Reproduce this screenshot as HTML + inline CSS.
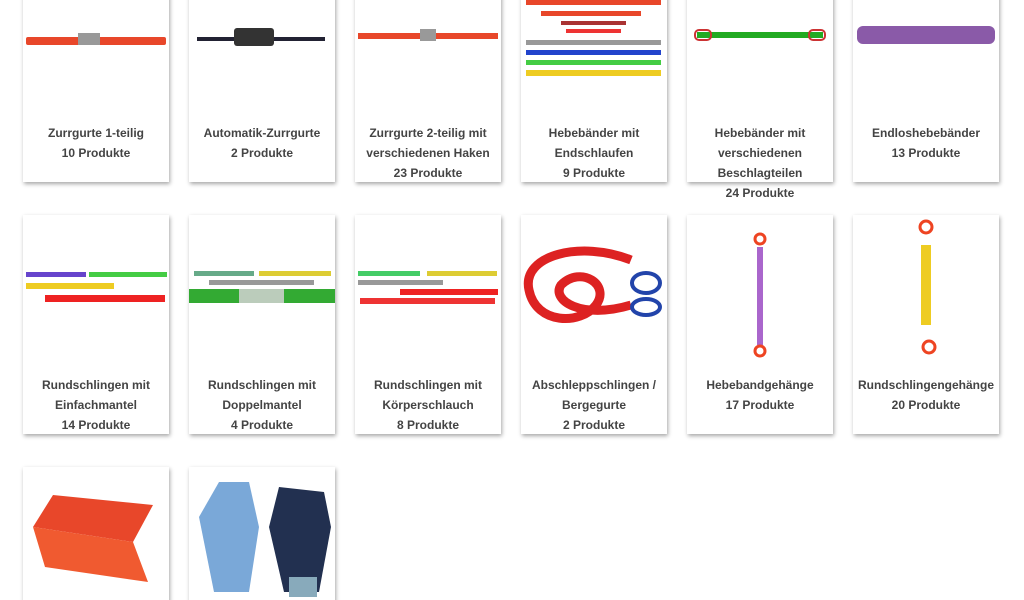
<!DOCTYPE html><html style="height:600px;overflow:hidden"><head><style>
body{margin:0;width:1024px;height:600px;background:#fff;overflow:hidden;position:relative;font-family:"Liberation Sans",Arial,sans-serif}
.c{position:absolute;width:146px;height:219px;background:#fff;box-shadow:1px 2px 4px rgba(0,0,0,.35)}
.t{position:absolute;left:0;right:0;top:160px;text-align:center;font-size:12px;font-weight:bold;color:#444;line-height:20px;white-space:nowrap}
.c svg{position:absolute;left:0;top:0}
</style></head><body>
<div class="c" style="left:23px;top:-37px"><svg width="146" height="150"><rect x="3" y="74" width="140" height="8" fill="#e8472a" rx="2"/><rect x="55" y="70" width="22" height="12" fill="#999"/></svg><div class="t">Zurrgurte 1-teilig<br>10 Produkte</div></div>
<div class="c" style="left:189px;top:-37px"><svg width="146" height="150"><rect x="8" y="74" width="128" height="4" fill="#223"/><rect x="45" y="65" width="40" height="18" fill="#333" rx="3"/></svg><div class="t">Automatik-Zurrgurte<br>2 Produkte</div></div>
<div class="c" style="left:355px;top:-37px"><svg width="146" height="150"><rect x="3" y="70" width="140" height="6" fill="#e8472a"/><rect x="65" y="66" width="16" height="12" fill="#999"/></svg><div class="t">Zurrgurte 2-teilig mit<br>verschiedenen Haken<br>23 Produkte</div></div>
<div class="c" style="left:521px;top:-37px"><svg width="146" height="150"><rect x="5" y="36" width="135" height="6" fill="#e8472a"/><rect x="20" y="48" width="100" height="5" fill="#e8472a"/><rect x="40" y="58" width="65" height="4" fill="#a33" /><rect x="45" y="66" width="55" height="4" fill="#e33"/><rect x="5" y="77" width="135" height="5" fill="#999"/><rect x="5" y="87" width="135" height="5" fill="#24c"/><rect x="5" y="97" width="135" height="5" fill="#4c4"/><rect x="5" y="107" width="135" height="6" fill="#ec2"/></svg><div class="t">Hebebänder mit<br>Endschlaufen<br>9 Produkte</div></div>
<div class="c" style="left:687px;top:-37px"><svg width="146" height="150"><rect x="10" y="69" width="126" height="6" fill="#2a2"/><rect x="8" y="67" width="16" height="10" fill="none" stroke="#c33" stroke-width="2" rx="4"/><rect x="122" y="67" width="16" height="10" fill="none" stroke="#c33" stroke-width="2" rx="4"/></svg><div class="t">Hebebänder mit<br>verschiedenen<br>Beschlagteilen<br>24 Produkte</div></div>
<div class="c" style="left:853px;top:-37px"><svg width="146" height="150"><rect x="4" y="63" width="138" height="18" fill="#8a5aa8" rx="6"/></svg><div class="t">Endloshebebänder<br>13 Produkte</div></div>
<div class="c" style="left:23px;top:215px"><svg width="146" height="150"><rect x="3" y="57" width="60" height="5" fill="#64c"/><rect x="66" y="57" width="78" height="5" fill="#4c4"/><rect x="3" y="68" width="88" height="6" fill="#ec2"/><rect x="22" y="80" width="120" height="7" fill="#e22"/></svg><div class="t">Rundschlingen mit<br>Einfachmantel<br>14 Produkte</div></div>
<div class="c" style="left:189px;top:215px"><svg width="146" height="150"><rect x="5" y="56" width="60" height="5" fill="#6a8"/><rect x="70" y="56" width="72" height="5" fill="#dc3"/><rect x="20" y="65" width="105" height="5" fill="#999"/><rect x="0" y="74" width="146" height="14" fill="#3a3"/><rect x="50" y="74" width="45" height="14" fill="#bcb"/></svg><div class="t">Rundschlingen mit<br>Doppelmantel<br>4 Produkte</div></div>
<div class="c" style="left:355px;top:215px"><svg width="146" height="150"><rect x="3" y="56" width="62" height="5" fill="#4c6"/><rect x="72" y="56" width="70" height="5" fill="#dc3"/><rect x="3" y="65" width="85" height="5" fill="#999"/><rect x="45" y="74" width="98" height="6" fill="#e22"/><rect x="5" y="83" width="135" height="6" fill="#e33"/></svg><div class="t">Rundschlingen mit<br>Körperschlauch<br>8 Produkte</div></div>
<div class="c" style="left:521px;top:215px"><svg width="146" height="150"><path d="M110 45 C60 25 0 40 8 75 C15 110 60 110 75 90 C90 70 60 50 40 70 C30 85 60 105 110 90" fill="none" stroke="#d22" stroke-width="9"/><ellipse cx="125" cy="68" rx="14" ry="10" fill="none" stroke="#24a" stroke-width="4"/><ellipse cx="125" cy="92" rx="14" ry="8" fill="none" stroke="#24a" stroke-width="4"/></svg><div class="t">Abschleppschlingen /<br>Bergegurte<br>2 Produkte</div></div>
<div class="c" style="left:687px;top:215px"><svg width="146" height="150"><circle cx="73" cy="24" r="5" fill="none" stroke="#e42" stroke-width="3"/><rect x="70" y="32" width="6" height="98" fill="#a6c"/><circle cx="73" cy="136" r="5" fill="none" stroke="#e42" stroke-width="3"/></svg><div class="t">Hebebandgehänge<br>17 Produkte</div></div>
<div class="c" style="left:853px;top:215px"><svg width="146" height="150"><circle cx="73" cy="12" r="6" fill="none" stroke="#e42" stroke-width="3"/><rect x="68" y="30" width="10" height="80" fill="#ec2"/><circle cx="76" cy="132" r="6" fill="none" stroke="#e42" stroke-width="3"/></svg><div class="t">Rundschlingengehänge<br>20 Produkte</div></div>
<div class="c" style="left:23px;top:467px"><svg width="146" height="150"><polygon points="10,60 30,28 130,38 110,75" fill="#e8472a"/><polygon points="10,60 110,75 125,115 22,100" fill="#f05a30"/></svg></div>
<div class="c" style="left:189px;top:467px"><svg width="146" height="150"><path d="M10 50 L30 15 L60 15 L70 60 L60 125 L25 125 Z" fill="#7aa8d8"/><path d="M80 60 L90 20 L135 25 L142 60 L130 125 L95 125 Z" fill="#223050"/><rect x="100" y="110" width="28" height="20" fill="#8ab"/></svg></div>
</body></html>
